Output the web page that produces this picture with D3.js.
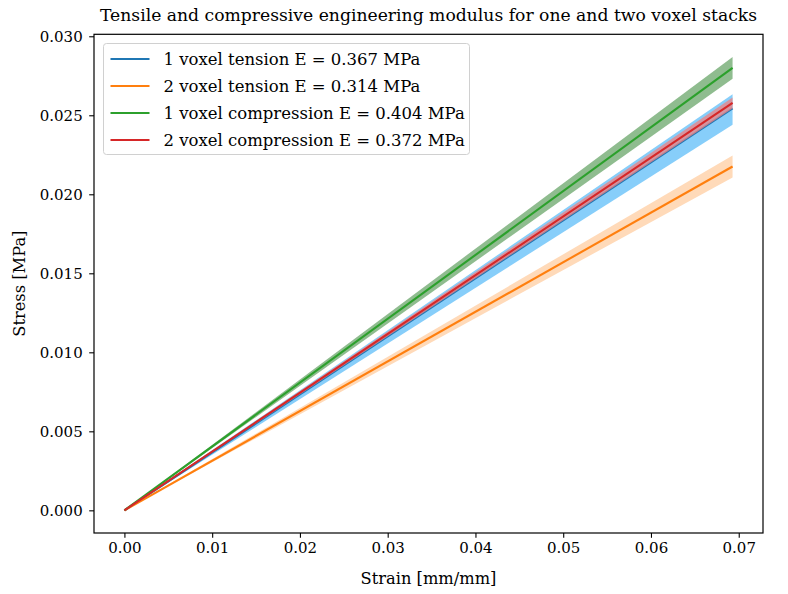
<!DOCTYPE html>
<html>
<head>
<meta charset="utf-8">
<script src="https://cdn.jsdelivr.net/npm/d3@7"></script>
<style>
  body { margin: 0; background: #fff; }
  svg text { font-family: "DejaVu Serif", "Liberation Serif", serif; fill: #000; }
</style>
</head>
<body>
<svg id="chart" width="788" height="594"></svg>
<script>
// Linear-elastic fits: stress = E * strain, with a spread band E_low..E_high
const seriesNames = ["1 voxel tension", "2 voxel tension", "1 voxel compression", "2 voxel compression"];
const modulus     = [0.367, 0.314, 0.404, 0.372];
const modulusLow  = [0.352, 0.304, 0.394, 0.367];
const modulusHigh = [0.380, 0.324, 0.414, 0.377];
const strainPoints = [0, 0.0693];
const lineColors = ["#1f77b4", "#ff7f0e", "#2ca02c", "#d62728"];
const bandColors = ["#87cefa", "#ffdab9", "#8fbc8f", "#f08080"];
const bandOpacity = [1, 1, 1, 0.75];
const xTicks = [0, 0.01, 0.02, 0.03, 0.04, 0.05, 0.06, 0.07];
const yTicks = [0, 0.005, 0.010, 0.015, 0.020, 0.025, 0.030];

const svg = d3.select("#chart");
const plot = { left: 94, right: 763, top: 34.3, bottom: 533 };

// Scale a text's font size so that it spans the given width
function fitWidth(sel, width) {
  sel.each(function () {
    const fs = parseFloat(d3.select(this).attr("font-size"));
    const w = this.getComputedTextLength();
    if (w > 0) d3.select(this).attr("font-size", (fs * width / w).toFixed(2));
  });
}

// 5% data margins on each side
const xMin = d3.min(strainPoints), xMax = d3.max(strainPoints);
const yMin = 0, yMax = d3.max(modulusHigh) * xMax;
const xPad = (xMax - xMin) * 0.05, yPad = (yMax - yMin) * 0.05;

const x = d3.scaleLinear().domain([xMin - xPad, xMax + xPad]).range([plot.left, plot.right]);
const y = d3.scaleLinear().domain([yMin - yPad, yMax + yPad]).range([plot.bottom, plot.top]);

const g = svg.append("g");

seriesNames.forEach((name, i) => {
  const area = d3.area()
    .x(d => x(d))
    .y0(d => y(modulusLow[i] * d))
    .y1(d => y(modulusHigh[i] * d));
  g.append("path")
    .datum(strainPoints)
    .attr("d", area)
    .attr("fill", bandColors[i])
    .attr("fill-opacity", bandOpacity[i]);

  const line = d3.line().x(d => x(d)).y(d => y(modulus[i] * d));
  g.append("path")
    .datum(strainPoints)
    .attr("d", line)
    .attr("fill", "none")
    .attr("stroke", lineColors[i])
    .attr("stroke-width", 2.1);
});

// Axes
const tickFmtX = d3.format(".2f"), tickFmtY = d3.format(".3f");
const xAxis = svg.append("g")
  .attr("transform", `translate(0,${plot.bottom})`)
  .call(d3.axisBottom(x).tickValues(xTicks).tickFormat(tickFmtX).tickSizeOuter(0).tickSize(4.8).tickPadding(5));
const yAxis = svg.append("g")
  .attr("transform", `translate(${plot.left},0)`)
  .call(d3.axisLeft(y).tickValues(yTicks).tickFormat(tickFmtY).tickSizeOuter(0).tickSize(4.8).tickPadding(6.5));
[xAxis, yAxis].forEach(a => {
  a.select(".domain").remove();
  a.selectAll(".tick line").attr("stroke", "#000").attr("stroke-width", 1.1);
  a.selectAll(".tick text").attr("font-size", 15).attr("font-family", null);
});

// Frame
svg.append("rect")
  .attr("x", plot.left).attr("y", plot.top)
  .attr("width", plot.right - plot.left).attr("height", plot.bottom - plot.top)
  .attr("fill", "none").attr("stroke", "#000").attr("stroke-width", 1.2);

// Titles
const title = svg.append("text")
  .attr("x", (plot.left + plot.right) / 2).attr("y", 21)
  .attr("text-anchor", "middle").attr("font-size", 17)
  .text("Tensile and compressive engineering modulus for one and two voxel stacks");
fitWidth(title, 658);
const xLabel = svg.append("text")
  .attr("x", (plot.left + plot.right) / 2).attr("y", 584)
  .attr("text-anchor", "middle").attr("font-size", 15)
  .text("Strain [mm/mm]");
fitWidth(xLabel, 136);
const yLabel = svg.append("text")
  .attr("transform", `translate(25,${(plot.top + plot.bottom) / 2}) rotate(-90)`)
  .attr("text-anchor", "middle").attr("font-size", 15)
  .text("Stress [MPa]");
yLabel.attr("font-size", xLabel.attr("font-size"));

// Legend
const legend = svg.append("g").attr("transform", "translate(103.5,43.5)");
legend.append("rect")
  .attr("width", 366).attr("height", 111).attr("rx", 3)
  .attr("fill", "#fff").attr("fill-opacity", 0.8)
  .attr("stroke", "#d0d0d0").attr("stroke-width", 1);
const legendTexts = [];
seriesNames.forEach((name, i) => {
  const row = legend.append("g").attr("transform", `translate(0,${15.5 + i * 27})`);
  row.append("line").attr("x1", 7).attr("x2", 46).attr("y1", 0).attr("y2", 0)
    .attr("stroke", lineColors[i]).attr("stroke-width", 2.1);
  legendTexts.push(row.append("text").attr("x", 60).attr("y", 5.5).attr("font-size", 16)
    .text(`${name} E = ${d3.format(".3f")(modulus[i])} MPa`));
});
fitWidth(legendTexts[0], 257);
legendTexts.forEach(t => t.attr("font-size", legendTexts[0].attr("font-size")));
</script>
</body>
</html>
